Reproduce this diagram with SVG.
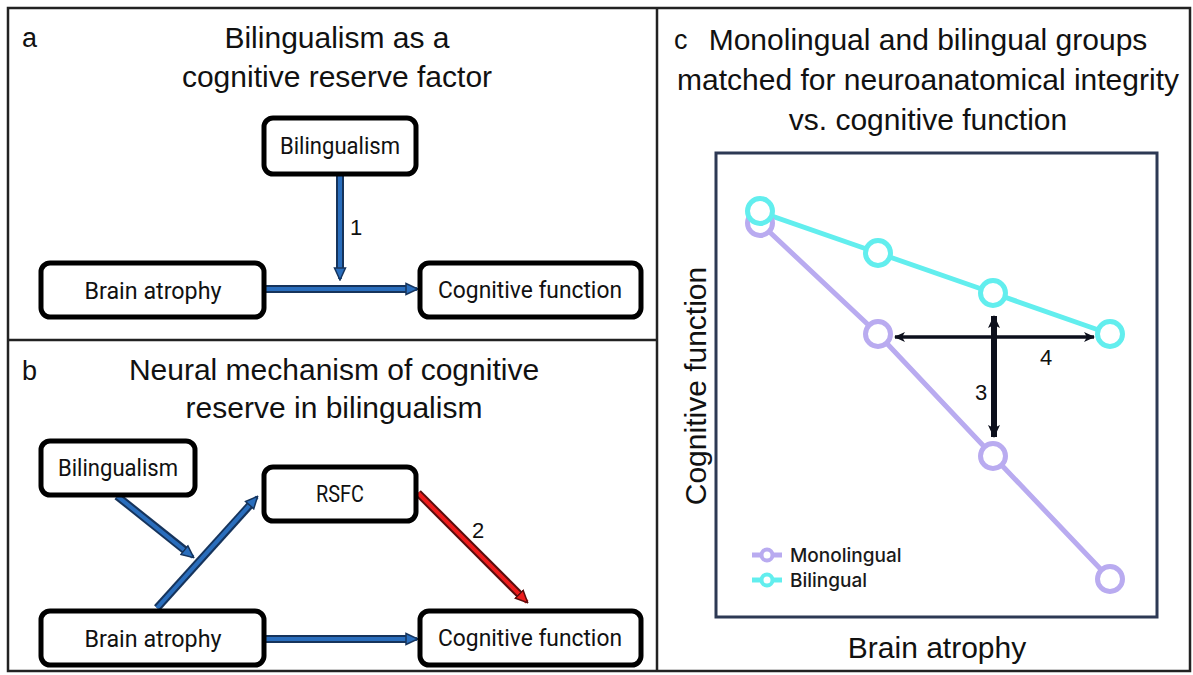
<svg xmlns="http://www.w3.org/2000/svg" width="1193" height="675" viewBox="0 0 1193 675">
<style>
.frame{fill:none;stroke:#222;stroke-width:2.5}
.box{fill:#fff;stroke:#000;stroke-width:5}
.node{font-family:Roboto,"Liberation Sans",sans-serif;font-size:23px;fill:#111;text-anchor:middle}
.title{font-family:"Liberation Sans",Arial,sans-serif;font-size:30px;fill:#111;text-anchor:middle}
.tag{font-family:"Liberation Sans",Arial,sans-serif;font-size:27px;fill:#111}
.num{font-family:"Liberation Sans",Arial,sans-serif;font-size:22px;fill:#111;text-anchor:middle}
.bo{stroke:#16345c;stroke-width:8;fill:none}
.bi{stroke:#2a6ebd;stroke-width:4;fill:none}
.ro{stroke:#5a0d0d;stroke-width:8;fill:none}
.ri{stroke:#ee1c1c;stroke-width:4;fill:none}
.cy{stroke:#62eeee;stroke-width:5;fill:none}
.lv{stroke:#b9abf0;stroke-width:5;fill:none}
.cyc{stroke:#62eeee;stroke-width:5;fill:#fff}
.lvc{stroke:#b9abf0;stroke-width:5;fill:#fff}
.blk{stroke:#0c0f1c;fill:none}
.leg{font-family:Inter,"Liberation Sans",Arial,sans-serif;font-size:19px;font-weight:500;fill:#1a1a1a}
</style>
<defs>
<marker id="hb" markerUnits="userSpaceOnUse" viewBox="0 0 14 14" markerWidth="14" markerHeight="14" refX="12" refY="7" orient="auto">
<path d="M1,1.5 L13,7 L1,12.5 z" fill="#2a6ebd" stroke="#16345c" stroke-width="1.5"/>
</marker>
<marker id="hr" markerUnits="userSpaceOnUse" viewBox="0 0 14 14" markerWidth="14" markerHeight="14" refX="12" refY="7" orient="auto">
<path d="M1,1.5 L13,7 L1,12.5 z" fill="#ee1c1c" stroke="#5a0d0d" stroke-width="1.5"/>
</marker>
<marker id="hk" markerUnits="userSpaceOnUse" viewBox="0 0 12 12" markerWidth="12" markerHeight="12" refX="10" refY="6" orient="auto-start-reverse">
<path d="M0,1 L11,6 L0,11 L3,6 z" fill="#0c0f1c"/>
</marker>
<marker id="hk2" markerUnits="userSpaceOnUse" viewBox="0 0 14 14" markerWidth="14" markerHeight="14" refX="12" refY="7" orient="auto-start-reverse">
<path d="M0,1 L13,7 L0,13 L3,7 z" fill="#0c0f1c"/>
</marker>
</defs>

<rect width="1193" height="675" fill="#fff"/>
<g id="frames">
<rect class="frame" x="8" y="8" width="1182" height="663"/>
<line class="frame" x1="657" y1="8" x2="657" y2="671"/>
<line class="frame" x1="8" y1="340" x2="657" y2="340"/>
</g>

<g id="panel-a-title">
<text class="tag" x="22" y="47">a</text>
<text class="title" x="337" y="48">Bilingualism as a</text>
<text class="title" x="337" y="87">cognitive reserve factor</text>
</g>

<g id="connectors">
<line class="bo" x1="340" y1="176" x2="340" y2="270"/>
<line class="bi" x1="340" y1="176" x2="340" y2="279" marker-end="url(#hb)"/>
<line class="bo" x1="266" y1="289" x2="408" y2="289"/>
<line class="bi" x1="266" y1="289" x2="417" y2="289" marker-end="url(#hb)"/>
<text class="num" x="356" y="235">1</text>

<line class="bo" x1="117" y1="496" x2="186" y2="551"/>
<line class="bi" x1="117" y1="496" x2="193" y2="557" marker-end="url(#hb)"/>
<line class="bo" x1="157" y1="608" x2="251" y2="504"/>
<line class="bi" x1="157" y1="608" x2="257" y2="497" marker-end="url(#hb)"/>
<line class="bo" x1="266" y1="639" x2="408" y2="639"/>
<line class="bi" x1="266" y1="639" x2="417" y2="639" marker-end="url(#hb)"/>
<line class="ro" x1="418" y1="493" x2="520" y2="595"/>
<line class="ri" x1="418" y1="493" x2="527" y2="602" marker-end="url(#hr)"/>
<text class="num" x="478" y="538">2</text>
</g>

<g id="a-bilingualism">
<rect class="box" x="264" y="118" width="152" height="56" rx="9"/>
<text class="node" x="340" y="154" textLength="120" lengthAdjust="spacingAndGlyphs">Bilingualism</text>
</g>
<g id="a-brain-atrophy">
<rect class="box" x="41" y="263" width="223" height="54" rx="9"/>
<text class="node" x="153" y="299" textLength="137" lengthAdjust="spacingAndGlyphs">Brain atrophy</text>
</g>
<g id="a-cognitive-function">
<rect class="box" x="420" y="263" width="221" height="54" rx="9"/>
<text class="node" x="530" y="298" textLength="184" lengthAdjust="spacingAndGlyphs">Cognitive function</text>
</g>

<g id="panel-b-title">
<text class="tag" x="22" y="380">b</text>
<text class="title" x="334" y="380">Neural mechanism of cognitive</text>
<text class="title" x="334" y="418">reserve in bilingualism</text>
</g>

<g id="b-bilingualism">
<rect class="box" x="41" y="441" width="154" height="54" rx="9"/>
<text class="node" x="118" y="476" textLength="120" lengthAdjust="spacingAndGlyphs">Bilingualism</text>
</g>
<g id="b-rsfc">
<rect class="box" x="264" y="467" width="152" height="54" rx="9"/>
<text class="node" x="340" y="502" textLength="48" lengthAdjust="spacingAndGlyphs">RSFC</text>
</g>
<g id="b-brain-atrophy">
<rect class="box" x="41" y="611" width="223" height="54" rx="9"/>
<text class="node" x="153" y="647" textLength="137" lengthAdjust="spacingAndGlyphs">Brain atrophy</text>
</g>
<g id="b-cognitive-function">
<rect class="box" x="420" y="611" width="221" height="54" rx="9"/>
<text class="node" x="530" y="646" textLength="184" lengthAdjust="spacingAndGlyphs">Cognitive function</text>
</g>

<g id="panel-c">
<text class="tag" x="674" y="49">c</text>
<text class="title" x="928" y="50">Monolingual and bilingual groups</text>
<text class="title" x="928" y="90">matched for neuroanatomical integrity</text>
<text class="title" x="928" y="130">vs. cognitive function</text>
<rect x="716" y="153" width="441" height="464" fill="none" stroke="#2d3954" stroke-width="3"/>
<text class="title" x="0" y="0" font-size="32" transform="translate(706,386) rotate(-90)">Cognitive function</text>
<text class="title" x="937" y="658">Brain atrophy</text>

<polyline class="lv" points="760,223 878,334 993,456 1110,579"/>
<polyline class="cy" points="760,212 878,253 993,293 1110,334"/>
<circle class="lvc" cx="760" cy="223" r="12.5"/>
<circle class="lvc" cx="878" cy="334" r="12.5"/>
<circle class="lvc" cx="993" cy="456" r="12.5"/>
<circle class="lvc" cx="1110" cy="579" r="12.5"/>
<circle class="cyc" cx="760" cy="211" r="12.5"/>
<circle class="cyc" cx="878" cy="253" r="12.5"/>
<circle class="cyc" cx="993" cy="293" r="12.5"/>
<circle class="cyc" cx="1110" cy="334" r="12.5"/>

<line class="blk" stroke-width="3.5" x1="895" y1="337" x2="1094" y2="337" marker-start="url(#hk)" marker-end="url(#hk)"/>
<line class="blk" stroke-width="6" x1="994" y1="316" x2="994" y2="437" marker-start="url(#hk2)" marker-end="url(#hk2)"/>
<text class="num" x="981" y="400">3</text>
<text class="num" x="1046" y="365">4</text>

<line class="lv" stroke-width="4" x1="752" y1="555" x2="782" y2="555"/>
<circle cx="767" cy="555" r="5.5" fill="#fff" stroke="#b9abf0" stroke-width="4"/>
<text class="leg" x="790" y="562">Monolingual</text>
<line class="cy" stroke-width="4" x1="752" y1="580" x2="782" y2="580"/>
<circle cx="767" cy="580" r="5.5" fill="#fff" stroke="#62eeee" stroke-width="4"/>
<text class="leg" x="790" y="587">Bilingual</text>
</g>
</svg>
